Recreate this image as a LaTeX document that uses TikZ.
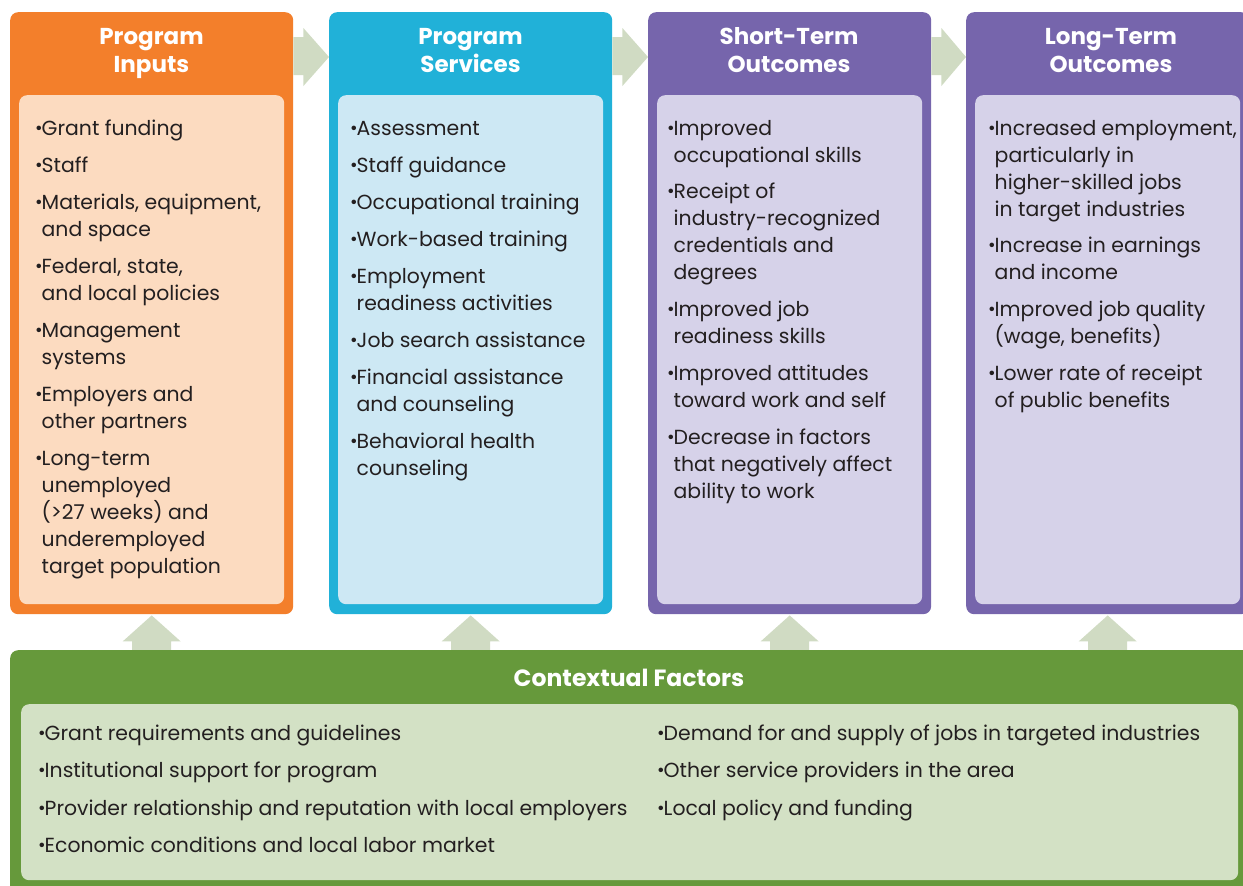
\documentclass[tikz,border=0pt]{standalone}
\usepackage{fontspec}
\setmainfont{Poppins}
\usetikzlibrary{calc}

\definecolor{inputC}{HTML}{F37F2B}
\definecolor{inputL}{HTML}{FCDBC0}
\definecolor{serviceC}{HTML}{21B1D8}
\definecolor{serviceL}{HTML}{CDE8F4}
\definecolor{outcomeC}{HTML}{7665AC}
\definecolor{outcomeL}{HTML}{D6D2E9}
\definecolor{contextC}{HTML}{66993B}
\definecolor{contextL}{HTML}{D3E1C5}
\definecolor{flowC}{HTML}{D0DBC3}
\definecolor{bodyC}{HTML}{231F20}

\newcommand{\bul}{\makebox[6.5pt][l]{\raisebox{0.5pt}{\scalebox{0.9}{\textbullet}}}}
\newcommand{\entry}[3]{\node[entrytext] (#1) at (#2) {\bul\begin{tabular}[t]{@{}l@{}}#3\end{tabular}};}
\newcommand{\colhead}[3]{\node[headtext] (#1) at (#2) {\begin{tabular}[t]{@{}c@{}}#3\end{tabular}};}

\begin{document}
\begin{tikzpicture}[x=1pt,y=-1pt,
  outerbox/.style={rectangle, rounded corners=8pt, fill=#1, minimum width=283pt, minimum height=602pt, inner sep=0pt, anchor=north west},
  innerbox/.style={rectangle, rounded corners=8pt, fill=#1, minimum width=265pt, minimum height=509pt, inner sep=0pt, anchor=north west},
  entrytext/.style={anchor=base west, inner sep=0pt, text=bodyC, font=\fontsize{20.4}{27}\selectfont},
  headtext/.style={anchor=base, inner sep=0pt, text=white, font=\fontsize{23}{28}\selectfont\bfseries},
  flow/.style={fill=flowC}
]
\useasboundingbox (0,0) rectangle (1243,886);
\begin{scope}
\clip (0,0) rectangle (1243,886);

% ---- stage boxes
\node[outerbox=inputC]   (inputs)   at (10,12)  {};
\node[outerbox=serviceC] (services) at (329,12) {};
\node[outerbox=outcomeC] (short)    at (648,12) {};
\node[outerbox=outcomeC] (long)     at (966,12) {};

\node[innerbox=inputL]   (inputsL)   at (19,95)  {};
\node[innerbox=serviceL] (servicesL) at (338,95) {};
\node[innerbox=outcomeL] (shortL)    at (657,95) {};
\node[innerbox=outcomeL] (longL)     at (975,95) {};

% right-pointing arrows from each stage to the next
\foreach \s/\t in {inputs/services, services/short, short/long}{
  \fill[flow] ($(\s.north east)+(0,25)$) -- ($(\s.north east)+(10,25)$) -- ($(\s.north east)+(10,16)$)
     -- ($(\t.north west)+(0,45)$)
     -- ($(\s.north east)+(10,74)$) -- ($(\s.north east)+(10,63)$) -- ($(\s.north east)+(0,63)$) -- cycle;
}

% up-pointing arrows from the context band into each stage
\foreach \s in {inputs, services, short, long}{
  \fill[flow] ($(\s.south)+(0,1)$) -- ($(\s.south)+(29,27)$) -- ($(\s.south)+(19.5,27)$)
     -- ($(\s.south)+(19.5,45)$) -- ($(\s.south)+(-19.5,45)$) -- ($(\s.south)+(-19.5,27)$)
     -- ($(\s.south)+(-29,27)$) -- cycle;
}

% ---- context band
\node[rectangle, rounded corners=8pt, fill=contextC, minimum width=1250pt, minimum height=250pt, inner sep=0pt, anchor=north west] (context) at (10,650) {};
\node[rectangle, rounded corners=8pt, fill=contextL, minimum width=1217pt, minimum height=176pt, inner sep=0pt, anchor=north west] (contextL) at (21,704) {};
\end{scope}

% ---- headings
\colhead{hInputs}{151.5,45}{Program\\Inputs}
\colhead{hServices}{470.5,45}{Program\\Services}
\colhead{hShort}{789,45}{Short-Term\\Outcomes}
\colhead{hLong}{1111,45}{Long-Term\\Outcomes}
\node[headtext, font=\fontsize{23.5}{28}\selectfont\bfseries] (hContext) at (629,686) {Contextual Factors};

% ---- program inputs
\entry{i1}{35,135}{Grant funding}
\entry{i2}{35,172}{Staff}
\entry{i3}{35,209}{Materials, equipment,\\and space}
\entry{i4}{35,273}{Federal, state,\\and local policies}
\entry{i5}{35,337}{Management\\systems}
\entry{i6}{35,401}{Employers and\\other partners}
\entry{i7}{35,465}{Long-term\\unemployed\\(>27 weeks) and\\underemployed\\target population}

% ---- program services
\entry{s1}{350,135}{Assessment}
\entry{s2}{350,172}{Staff guidance}
\entry{s3}{350,209}{Occupational training}
\entry{s4}{350,246}{Work-based training}
\entry{s5}{350,283}{Employment\\readiness activities}
\entry{s6}{350,347}{Job search assistance}
\entry{s7}{350,384}{Financial assistance\\and counseling}
\entry{s8}{350,448}{Behavioral health\\counseling}

% ---- short-term outcomes
\entry{o1}{667,135}{Improved\\occupational skills}
\entry{o2}{667,198}{Receipt of\\industry-recognized\\credentials and\\degrees}
\entry{o3}{667,316}{Improved job\\readiness skills}
\entry{o4}{667,380}{Improved attitudes\\toward work and self}
\entry{o5}{667,444}{Decrease in factors\\that negatively affect\\ability to work}

% ---- long-term outcomes
\entry{l1}{988,135}{Increased employment,\\particularly in\\higher-skilled jobs\\in target industries}
\entry{l2}{988,252}{Increase in earnings\\and income}
\entry{l3}{988,316}{Improved job quality\\(wage, benefits)}
\entry{l4}{988,380}{Lower rate of receipt\\of public benefits}

% ---- contextual factors
\entry{c1}{38,740}{Grant requirements and guidelines}
\entry{c2}{38,777}{Institutional support for program}
\entry{c3}{38,815}{Provider relationship and reputation with local employers}
\entry{c4}{38,852}{Economic conditions and local labor market}
\entry{c5}{657,740}{Demand for and supply of jobs in targeted industries}
\entry{c6}{657,777}{Other service providers in the area}
\entry{c7}{657,815}{Local policy and funding}
\end{tikzpicture}
\end{document}
